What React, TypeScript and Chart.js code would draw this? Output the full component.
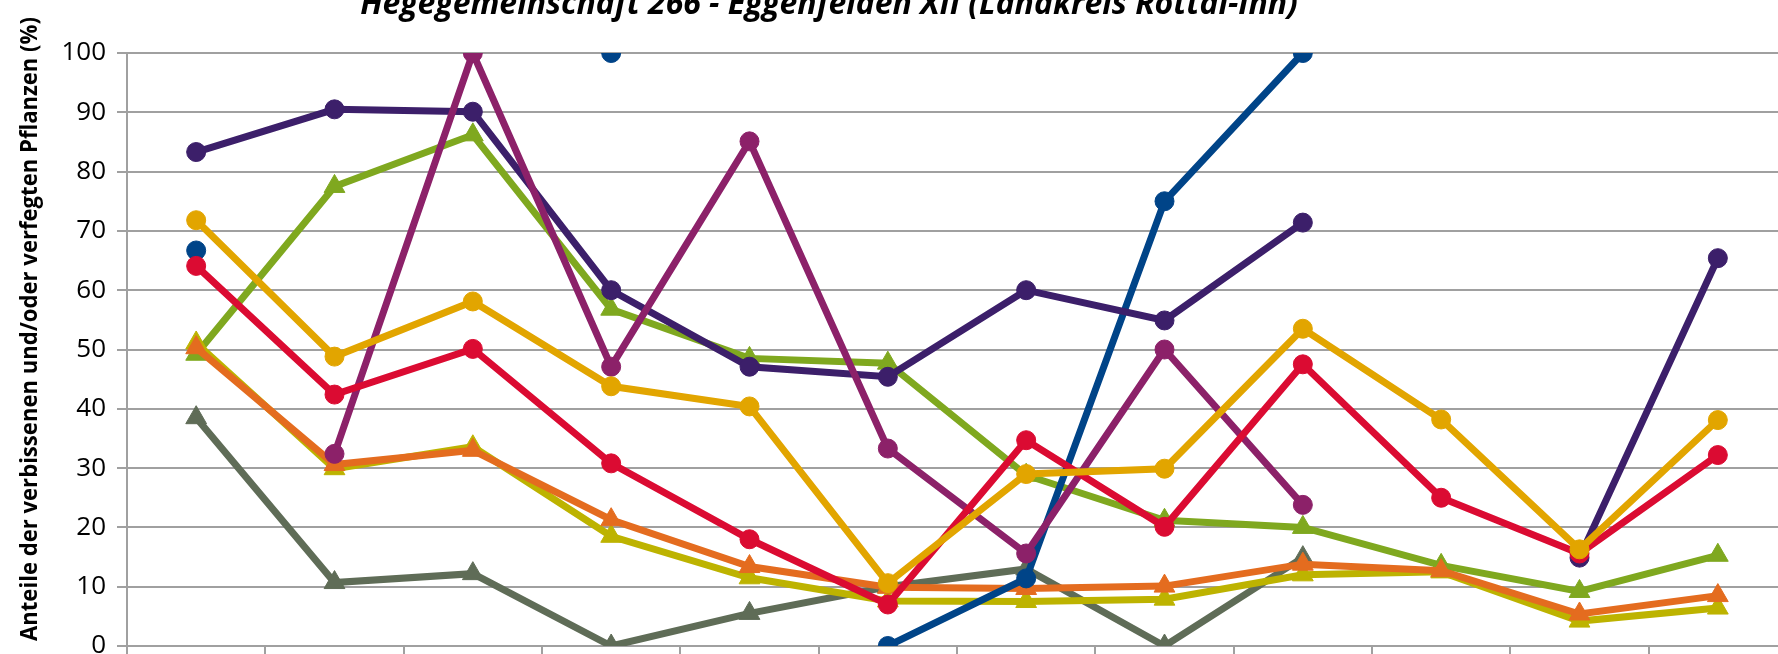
import React, { useEffect, useRef } from 'react';
import { Chart, registerables } from 'chart.js';

Chart.register(...registerables);

// ---- data ----
const categories = ['1991', '1994', '1997', '2000', '2003', '2006', '2009', '2012', '2015', '2018', '2021', '2024'];

const seriesGold = [71.8, 48.8, 58.1, 43.8, 40.4, 10.6, 29.0, 29.9, 53.5, 38.2, 16.3, 38.1];
const seriesRed = [64.1, 42.4, 50.1, 30.8, 18.0, 7.0, 34.7, 20.1, 47.5, 25.0, 15.6, 32.2];
const seriesMagenta = [null, 32.4, 100, 47.1, 85.1, 33.3, 15.6, 50.0, 23.8, null, null, null];
const seriesPurple = [83.3, 90.5, 90.1, 60.0, 47.1, 45.4, 60.0, 54.9, 71.4, null, 14.9, 65.4];
const seriesBlue = [66.7, null, null, 100, null, 0, 11.4, 75.0, 100, null, null, null];
const seriesOrange = [50.3, 30.6, 33.0, 21.3, 13.4, 9.9, 9.7, 10.1, 13.8, 12.7, 5.4, 8.5];
const seriesOlive = [51.1, 29.9, 33.6, 18.5, 11.5, 7.6, 7.5, 7.9, 12.0, 12.5, 4.2, 6.4];
const seriesGreen = [49.2, 77.5, 86.2, 56.8, 48.5, 47.7, 28.8, 21.2, 20.0, 13.6, 9.2, 15.3];
const seriesGray = [38.5, 10.7, 12.2, 0, 5.5, 10.0, 13.0, 0, 14.9, null, null, null];

const seriesLabels = ['Buche', 'Edellaubholz', 'Sonstiges Laubholz', 'Eiche', 'Tanne', 'Fichte (Leittrieb)', 'Kiefer', 'Laubholz gesamt', 'Nadelholz gesamt'];

const titleText = 'Hegegemeinschaft 266 - Eggenfelden XII (Landkreis Rottal-Inn)';
const yAxisTitle = 'Anteile der verbissenen und/oder verfegten Pflanzen (%)';

const yMin = 0;
const yMax = 100;
const yStep = 10;

export default function App() {
  const ref = useRef<HTMLCanvasElement>(null);

  useEffect(() => {
    document.documentElement.style.overflow = 'hidden';
    document.body.style.overflow = 'hidden';
    document.body.style.margin = '0';

    const textPlugin = {
      id: 'customText',
      afterDraw(chart: any) {
        const ctx = chart.ctx as CanvasRenderingContext2D;
        ctx.save();
        ctx.fillStyle = '#000000';
        // title (fitted to target width)
        let size = 26;
        ctx.font = `italic bold ${size}px "Open Sans"`;
        let w = ctx.measureText(titleText).width;
        size = (size * 938) / w;
        ctx.font = `italic bold ${size}px "Open Sans"`;
        ctx.textAlign = 'center';
        ctx.textBaseline = 'alphabetic';
        ctx.fillText(titleText, 829, 13.5);

        // y-axis title (rotated), condensed along its length to match
        const ys = 24;
        ctx.font = `bold ${ys}px "Open Sans"`;
        w = ctx.measureText(yAxisTitle).width;
        const sx = 624 / w;
        ctx.translate(30, 329);
        ctx.rotate(-Math.PI / 2);
        ctx.scale(sx, 1);
        ctx.textAlign = 'center';
        ctx.textBaseline = 'middle';
        ctx.fillText(yAxisTitle, 0, 0);
        ctx.restore();
      },
    };

    const mk = (label: string, data: (number | null)[], color: string, style: 'circle' | 'triangle') => ({
      label,
      data,
      borderColor: color,
      backgroundColor: color,
      pointBackgroundColor: color,
      pointBorderColor: color,
      pointBorderWidth: 1,
      pointStyle: style,
      pointRadius: style === 'circle' ? 9.5 : 12,
      borderWidth: 7,
      tension: 0,
      spanGaps: false,
    });

    const chart = new Chart(ref.current as HTMLCanvasElement, {
      type: 'line',
      data: {
        labels: categories,
        datasets: [
          mk(seriesLabels[0], seriesGold, '#E2A500', 'circle'),
          mk(seriesLabels[1], seriesRed, '#DB0B32', 'circle'),
          mk(seriesLabels[2], seriesMagenta, '#8C2169', 'circle'),
          mk(seriesLabels[3], seriesPurple, '#3C1F6A', 'circle'),
          mk(seriesLabels[4], seriesBlue, '#004488', 'circle'),
          mk(seriesLabels[5], seriesOrange, '#E46C1F', 'triangle'),
          mk(seriesLabels[6], seriesOlive, '#BDB300', 'triangle'),
          mk(seriesLabels[7], seriesGreen, '#7FA81F', 'triangle'),
          mk(seriesLabels[8], seriesGray, '#5F6C57', 'triangle'),
        ] as any,
      },
      options: {
        responsive: false,
        animation: false,
        layout: { padding: { top: 53, left: 0, right: 10, bottom: 0 } },
        plugins: {
          legend: { display: false },
          title: { display: false },
          tooltip: { enabled: false },
        },
        scales: {
          x: {
            type: 'category',
            offset: true,
            grid: {
              offset: true,
              drawOnChartArea: false,
              drawTicks: true,
              tickLength: 10,
              color: '#a0a0a0',
              lineWidth: 2,
            },
            border: { display: true, color: '#a0a0a0', width: 2 },
            ticks: { font: { family: 'Open Sans', size: 24 }, color: '#000', padding: 4 },
            afterFit(scale: any) {
              scale.height = 74;
            },
          },
          y: {
            min: yMin,
            max: yMax,
            ticks: { stepSize: yStep, padding: 11, font: { family: 'Open Sans', size: 26 }, color: '#000' },
            grid: { color: '#a0a0a0', lineWidth: 2, tickLength: 10 },
            border: { display: true, color: '#a0a0a0', width: 2 },
            afterFit(scale: any) {
              scale.width = 127;
            },
          },
        },
      } as any,
      plugins: [textPlugin],
    });

    return () => chart.destroy();
  }, []);

  return (
    <div style={{ position: 'fixed', left: 0, top: 0, width: 1800, height: 720 }}>
      <canvas ref={ref} width={1800} height={720} style={{ display: 'block', width: 1800, height: 720 }} />
    </div>
  );
}
